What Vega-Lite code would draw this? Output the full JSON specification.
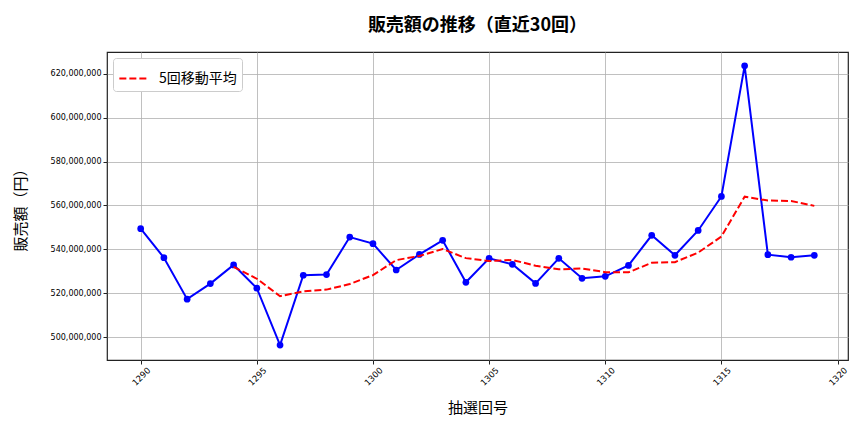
{
  "$schema": "https://vega.github.io/schema/vega-lite/v6.json",
  "width": 741,
  "height": 308,
  "autosize": {"type": "none"},
  "padding": {"left": 107, "top": 52, "right": 16, "bottom": 72},
  "background": "white",
  "config": {
    "font": "Noto Sans CJK JP",
    "view": {"stroke": "#222", "strokeWidth": 1.2},
    "axis": {
      "domain": false,
      "grid": true,
      "gridColor": "#b0b0b0",
      "gridWidth": 0.8,
      "tickColor": "#222",
      "tickSize": 4,
      "labelColor": "#000",
      "labelFont": "DejaVu Sans",
      "labelFontSize": 8,
      "titleFontSize": 15,
      "titleFontWeight": "normal",
      "titleColor": "#000"
    }
  },
  "title": {
    "text": "販売額の推移（直近30回）",
    "fontSize": 18,
    "fontWeight": "bold",
    "color": "#000",
    "offset": 17,
    "anchor": "middle"
  },
  "datasets": {
    "sales": [
      {"round": 1290, "sales": 549400000},
      {"round": 1291, "sales": 536200000},
      {"round": 1292, "sales": 517300000},
      {"round": 1293, "sales": 524400000},
      {"round": 1294, "sales": 532900000},
      {"round": 1295, "sales": 522300000},
      {"round": 1296, "sales": 496400000},
      {"round": 1297, "sales": 528200000},
      {"round": 1298, "sales": 528500000},
      {"round": 1299, "sales": 545600000},
      {"round": 1300, "sales": 542600000},
      {"round": 1301, "sales": 530600000},
      {"round": 1302, "sales": 537700000},
      {"round": 1303, "sales": 544100000},
      {"round": 1304, "sales": 525000000},
      {"round": 1305, "sales": 535900000},
      {"round": 1306, "sales": 533200000},
      {"round": 1307, "sales": 524500000},
      {"round": 1308, "sales": 535900000},
      {"round": 1309, "sales": 526800000},
      {"round": 1310, "sales": 527700000},
      {"round": 1311, "sales": 532700000},
      {"round": 1312, "sales": 546400000},
      {"round": 1313, "sales": 537300000},
      {"round": 1314, "sales": 548600000},
      {"round": 1315, "sales": 564100000},
      {"round": 1316, "sales": 623600000},
      {"round": 1317, "sales": 537600000},
      {"round": 1318, "sales": 536400000},
      {"round": 1319, "sales": 537300000}
    ],
    "ma": [
      {"round": 1294, "ma": 532040000},
      {"round": 1295, "ma": 526620000},
      {"round": 1296, "ma": 518660000},
      {"round": 1297, "ma": 520840000},
      {"round": 1298, "ma": 521660000},
      {"round": 1299, "ma": 524200000},
      {"round": 1300, "ma": 528260000},
      {"round": 1301, "ma": 535100000},
      {"round": 1302, "ma": 537000000},
      {"round": 1303, "ma": 540120000},
      {"round": 1304, "ma": 536000000},
      {"round": 1305, "ma": 534660000},
      {"round": 1306, "ma": 535180000},
      {"round": 1307, "ma": 532540000},
      {"round": 1308, "ma": 530900000},
      {"round": 1309, "ma": 531260000},
      {"round": 1310, "ma": 529620000},
      {"round": 1311, "ma": 529520000},
      {"round": 1312, "ma": 533900000},
      {"round": 1313, "ma": 534180000},
      {"round": 1314, "ma": 538540000},
      {"round": 1315, "ma": 545820000},
      {"round": 1316, "ma": 564000000},
      {"round": 1317, "ma": 562240000},
      {"round": 1318, "ma": 562060000},
      {"round": 1319, "ma": 559800000}
    ]
  },
  "layer": [
    {
      "data": {"name": "sales"},
      "mark": {"type": "line", "color": "#0000ff", "strokeWidth": 2, "point": {"filled": true, "color": "#0000ff", "size": 45}},
      "encoding": {
        "x": {
          "field": "round", "type": "quantitative",
          "scale": {"domain": [1288.55, 1320.45], "nice": false, "zero": false},
          "axis": {"values": [1290, 1295, 1300, 1305, 1310, 1315, 1320], "format": "d", "labelAngle": -45, "labelAlign": "center", "labelBaseline": "middle", "labelPadding": 12, "labelFontSize": 8.5, "title": "抽選回号", "titlePadding": 14}
        },
        "y": {
          "field": "sales", "type": "quantitative",
          "scale": {"domain": [489600000, 629900000], "nice": false, "zero": false},
          "axis": {"values": [500000000, 520000000, 540000000, 560000000, 580000000, 600000000, 620000000], "format": ",.0f", "title": "販売額（円）", "titlePadding": 22}
        }
      }
    },
    {
      "data": {"name": "ma"},
      "mark": {"type": "line", "strokeWidth": 2, "strokeDash": [7, 3]},
      "encoding": {
        "x": {"field": "round", "type": "quantitative"},
        "y": {"field": "ma", "type": "quantitative"},
        "color": {
          "datum": "5回移動平均",
          "scale": {"range": ["#ff0000"]},
          "legend": {
            "title": null,
            "orient": "top-left",
            "offset": 6,
            "symbolType": "stroke",
            "symbolDash": [7, 3],
            "symbolStrokeWidth": 2,
            "symbolSize": 800,
            "labelFontSize": 14,
            "labelOffset": 10,
            "labelColor": "#000",
            "labelFont": "Noto Sans CJK JP",
            "strokeColor": "#cccccc",
            "fillColor": "white",
            "cornerRadius": 3,
            "padding": 5
          }
        }
      }
    }
  ]
}
